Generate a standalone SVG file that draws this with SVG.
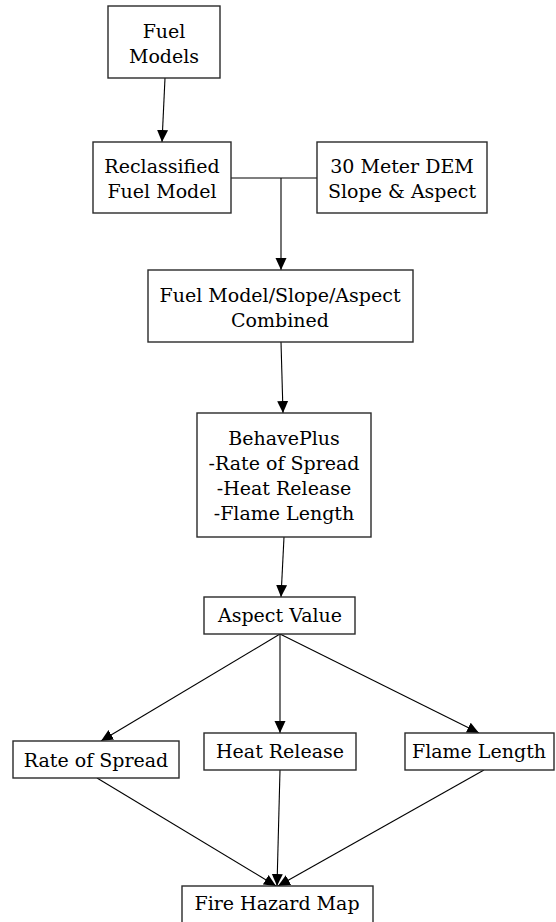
<svg xmlns="http://www.w3.org/2000/svg" width="556" height="922" viewBox="0 0 556 922">
  <style>
    .box { fill: #ffffff; stroke: #2a2a2a; stroke-width: 1.4; }
    .lbl { font-family: "DejaVu Serif", "Liberation Serif", serif; font-size: 19px; fill: #000000; text-anchor: middle; }
    .edge { stroke: #000000; stroke-width: 1.1; fill: none; }
    .arrow { marker-end: url(#head); }
  </style>
  <defs>
    <marker id="head" markerUnits="userSpaceOnUse" markerWidth="12" markerHeight="12" viewBox="0 0 12 12" refX="12" refY="6" orient="auto">
      <path d="M0,0.5 L12,6 L0,11.5 Z" fill="#000000"/>
    </marker>
  </defs>

  <rect width="556" height="922" fill="#ffffff"/>

  <g id="connectors">
    <line class="edge arrow" x1="165" y1="78" x2="162" y2="142"/>
    <line class="edge" x1="231" y1="178" x2="317" y2="178"/>
    <line class="edge arrow" x1="281" y1="178" x2="281" y2="270"/>
    <line class="edge arrow" x1="281" y1="342" x2="283" y2="413"/>
    <line class="edge arrow" x1="284" y1="537" x2="281" y2="597"/>
    <line class="edge arrow" x1="280" y1="634" x2="101" y2="741"/>
    <line class="edge arrow" x1="280" y1="634" x2="280" y2="733"/>
    <line class="edge arrow" x1="280" y1="634" x2="479" y2="733"/>
    <line class="edge arrow" x1="97" y1="778" x2="276" y2="886"/>
    <line class="edge arrow" x1="280" y1="770" x2="277" y2="886"/>
    <line class="edge arrow" x1="484" y1="770" x2="278" y2="886"/>
  </g>

  <g id="fuel-models">
    <rect class="box" x="108" y="6" width="112" height="72"/>
    <text class="lbl" x="164" y="38">Fuel</text>
    <text class="lbl" x="164" y="63">Models</text>
  </g>

  <g id="reclassified">
    <rect class="box" x="93" y="142" width="138" height="71"/>
    <text class="lbl" x="162" y="173">Reclassified</text>
    <text class="lbl" x="162" y="198">Fuel Model</text>
  </g>

  <g id="dem">
    <rect class="box" x="317" y="142" width="170" height="71"/>
    <text class="lbl" x="402" y="173">30 Meter DEM</text>
    <text class="lbl" x="402" y="198">Slope &amp; Aspect</text>
  </g>

  <g id="combined">
    <rect class="box" x="148" y="270" width="265" height="72"/>
    <text class="lbl" x="280" y="302">Fuel Model/Slope/Aspect</text>
    <text class="lbl" x="280" y="327">Combined</text>
  </g>

  <g id="behaveplus">
    <rect class="box" x="197" y="413" width="174" height="124"/>
    <text class="lbl" x="284" y="445">BehavePlus</text>
    <text class="lbl" x="284" y="470">-Rate of Spread</text>
    <text class="lbl" x="284" y="495">-Heat Release</text>
    <text class="lbl" x="284" y="520">-Flame Length</text>
  </g>

  <g id="aspect-value">
    <rect class="box" x="204" y="597" width="151" height="37"/>
    <text class="lbl" x="280" y="622">Aspect Value</text>
  </g>

  <g id="rate-of-spread">
    <rect class="box" x="13" y="741" width="166" height="37"/>
    <text class="lbl" x="96" y="767">Rate of Spread</text>
  </g>

  <g id="heat-release">
    <rect class="box" x="204" y="733" width="152" height="37"/>
    <text class="lbl" x="280" y="758">Heat Release</text>
  </g>

  <g id="flame-length">
    <rect class="box" x="405" y="733" width="149" height="37"/>
    <text class="lbl" x="479" y="758">Flame Length</text>
  </g>

  <g id="fire-hazard-map">
    <rect class="box" x="182" y="886" width="191" height="40"/>
    <text class="lbl" x="277" y="910">Fire Hazard Map</text>
  </g>
</svg>
